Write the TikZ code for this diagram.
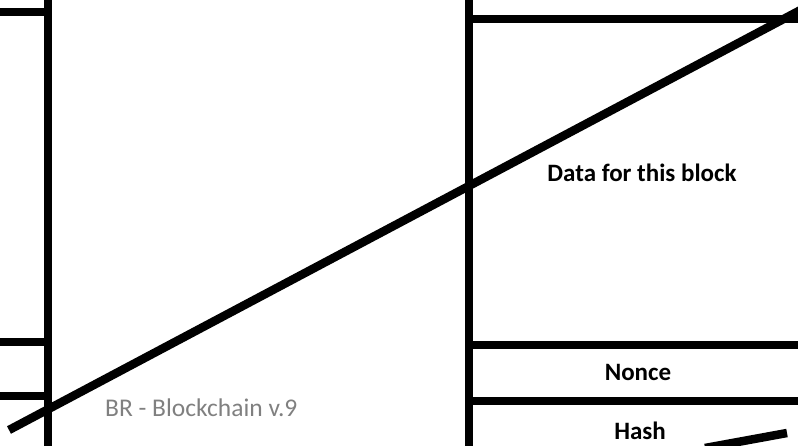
\documentclass[tikz,border=0pt]{standalone}
\usepackage{fontspec}
\setmainfont{Carlito}
\begin{document}
\begin{tikzpicture}[x=1pt, y=-1pt,
      bar/.style={line width=8.5pt, line cap=butt},
      label/.style={font=\bfseries\fontsize{25}{28}\selectfont, inner sep=0pt},
      footer/.style={font=\fontsize{25.5}{28}\selectfont, text=black!50, inner sep=0pt, anchor=west}]

    \clip (0,0) rectangle (798,446);

    % block frames
    \draw[bar] (48,0) -- (48,446);
    \draw[bar] (469,0) -- (469,446);
    \draw[bar] (0,12) -- (48,12);
    \draw[bar] (0,342) -- (48,342);
    \draw[bar] (0,396) -- (48,396);
    \draw[bar] (469,19) -- (798,19);
    \draw[bar] (469,345) -- (798,345);
    \draw[bar] (469,401) -- (798,401);

    % field labels
    \node[label] (data)  at (642,173) {Data for this block};
    \node[label] (nonce) at (638,372) {Nonce};
    \node[label] (hash)  at (640,431) {Hash};

    % strike-through strokes
    \coordinate (s1) at (9,430);
    \coordinate (s2) at (810,5);
    \draw[bar] (s1) -- (s2);
    \coordinate (t1) at (705,448);
    \coordinate (t2) at (787,433);
    \draw[bar] (t1) -- (t2);

    \node[footer] (foot) at (105,408) {BR - Blockchain v.9};
  \end{tikzpicture}
\end{document}
